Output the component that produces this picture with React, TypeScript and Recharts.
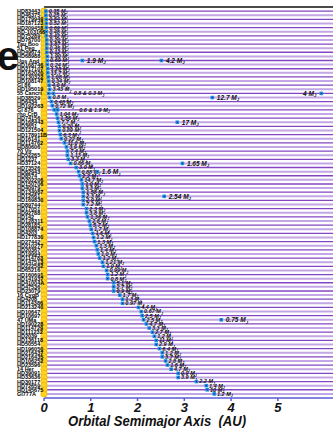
import React from 'react';
import { ReferenceLine, Scatter, ScatterChart, XAxis, YAxis } from 'recharts';

// host stars, top to bottom (sorted by innermost orbit)
const starNames = [
	'HD83443', 'HD46375', 'HD179949', 'HD187123', 'HD209458', 'BD-103166', 'HD75289', 'HD76700',
	'Tau Boo', '51 Peg', 'HD49674', 'HD68988', 'Ups And', 'HD168746', 'HD217107', 'HD162020',
	'HD130322', 'HD108147', 'Gl 86', 'HD195019', '55 Cancri', 'HD38529', 'HD6434', 'HD192263',
	'Gl 876', 'rho CrB', 'HD74156', 'HD168443', 'HD3651', 'HD121504', 'HD178911B', 'HD16141',
	'HD114762', 'HD80606', '70 Vir', 'HD52265', 'HD1237', 'HD37124', 'HD73526', 'HD82943',
	'HD8574', 'HD202206', 'HD150706', 'HD40979', 'HD134987', 'HD12661', 'HD169830', 'HD89744',
	'HD17051', 'HD92788', 'HD142', 'HD128311', 'HD28185', 'HD108874', 'HD4203', 'HD177830',
	'HD27442', 'HD210277', 'HD20367', 'HD19994', 'HD114783', 'HD147513', 'HD222582', 'HD65216',
	'HD160691', 'HD141937', 'HD41004A', 'HD47536', 'HD23079', '16 CygB', 'HD4208', 'HD114386',
	'HD213240', 'HD10647', 'HD10697', '47 UMa', 'HD190228', 'HD114729', 'HD111232', 'HD2039',
	'HD136118', 'HD50554', 'HD196050', 'HD216437', 'HD216435', 'HD106252', 'HD23596', '14 Her',
	'HD39091', 'HD33636', 'HD30177', 'HD72659', 'HD145675', 'Gl777A',
];

// innermost planet: semimajor axis (AU) and mass label (M_J)
const innerAU = [
	0.04, 0.04, 0.05, 0.05, 0.05, 0.05, 0.05, 0.06, 0.06, 0.06, 0.06, 0.07, 0.07, 0.07, 0.08, 0.08,
	0.09, 0.1, 0.11, 0.12, 0.1, 0.12, 0.16, 0.18, 0.22, 0.27, 0.29, 0.31, 0.33, 0.33, 0.35, 0.37,
	0.44, 0.48, 0.5, 0.5, 0.52, 0.57, 0.69, 0.74, 0.76, 0.8, 0.82, 0.82, 0.84, 0.84, 0.84, 0.84,
	0.91, 0.91, 0.93, 0.97, 0.99, 1.01, 1.04, 1.06, 1.08, 1.12, 1.14, 1.16, 1.19, 1.25, 1.27, 1.34,
	1.36, 1.36, 1.49, 1.49, 1.49, 1.62, 1.68, 1.68, 2.02, 2.08, 2.1, 2.13, 2.19, 2.25, 2.32, 2.36,
	2.4, 2.4, 2.47, 2.53, 2.53, 2.6, 2.64, 2.72, 2.87, 2.87, 3.26, 3.47, 3.49, 3.64,
];
const innerMass = [
	'0.35', '0.25', '0.84', '0.52', '0.69', '0.48', '0.42', '0.20', '3.87', '0.46', '0.12', '1.90',
	'0.69', '0.24', '1.28', '13.7', '1.08', '0.34', '4.0', '3.43', '0.8 & 0.3', '0.8', '0.48', '0.72',
	'0.6 & 1.9', '1.04', '1.56', '7.7', '0.20', '0.89', '6.3', '0.22', '11.0', '3.9', '7.4', '1.13',
	'3.3', '0.86', '3.0', '0.88', '2.2', '14.7', '1.0', '3.3', '1.58', '2.3', '2.9', '7.2',
	'2.3', '3.8', '1.36', '2.6', '5.7', '1.7', '1.6', '1.2', '1.3', '1.3', '1.4', '1.0',
	'1.2', '1.21', '1.0', '0.99', '1.2', '0.8', '5.1', '2.7', '0.9', '1.7', '1.3', '0.97',
	'4.4', '0.67', '2.5', '2.5', '4.7', '3.3', '2.7', '1.2', '11', '2.9', '6.4', '1.2',
	'3.7', '2.8', '1.6', '4.7', '0.9', '3.9', '2.2', '1.4', '10', '1.2',
];

// additional planets in multi-planet systems
const outerRow = [12, 12, 20, 20, 21, 24, 27, 37, 39, 45, 75];
const outerAU = [0.82, 2.51, 0.2, 5.93, 3.6, 0.29, 2.85, 2.96, 1.14, 2.57, 3.79];
const outerMass = ['1.9', '4.2', '', '4', '12.7', '', '17', '1.65', '1.6', '2.54', '0.75'];

const axisTicks = [0, 1, 2, 3, 4, 5];

const rows = starNames.map((_, i) => i);
const suns = rows.map((i) => ({ x: 0, y: i }));
const inner = rows.map((i) => ({ x: innerAU[i], y: i, mass: innerMass[i] }));
const outer = outerRow.map((r, k) => ({ x: outerAU[k], y: r, mass: outerMass[k] }));

const labelFont = "'Liberation Sans', Arial, sans-serif";

const Sun = (props: any) => (
	<circle cx={props.cx} cy={props.cy} r={3.2} fill='#ffd41c' stroke='#f0a400' strokeWidth={0.6} />
);

const planetShape = (size: number, gap: number) => (props: any) => {
	const { cx, cy, payload } = props;
	const m: string = payload.mass;
	const pair = m.includes('&');
	const left = payload.x > 5.5;
	const tx = left ? cx - 5 : cx + (pair ? 25 : gap);
	return (
		<g>
			<rect x={cx - 1.8} y={cy - 1.8} width={3.6} height={3.6} fill='#1e8fe6' />
			<rect x={cx - 0.6} y={cy - 0.6} width={1.2} height={1.2} fill='#0b2d6a' />
			{m && (
				<text
					x={tx}
					y={cy + size * 0.35}
					textAnchor={left ? 'end' : 'start'}
					fontSize={size}
					fontWeight='bold'
					fontStyle='italic'
					fontFamily={labelFont}
					fill='#111'
				>
					{m} M
					<tspan fontSize={size * 0.65} dy={size * 0.25}>
						J
					</tspan>
				</text>
			)}
		</g>
	);
};

const NameTick = (props: any) => (
	<text x={17} y={props.y + 2} fontSize={5.5} fontWeight='bold' fontFamily={labelFont} fill='#000'>
		{starNames[props.payload.value]}
	</text>
);

const AxisTick = (props: any) => (
	<text
		x={props.x}
		y={props.y + 9}
		textAnchor='middle'
		fontSize={13}
		fontWeight='bold'
		fontStyle='italic'
		fontFamily={labelFont}
		fill='#111'
	>
		{props.payload.value}
	</text>
);

export default function App() {
	return (
		<div style={{ position: 'absolute', left: 0, top: 0, width: 333, height: 428, background: '#fff' }}>
			<div
				style={{
					position: 'absolute',
					left: -3,
					top: 36,
					fontSize: 40,
					lineHeight: '40px',
					fontWeight: 'bold',
					fontFamily: labelFont,
					color: '#111',
				}}
			>
				e
			</div>
			<ScatterChart width={333} height={428} margin={{ top: 7, right: 0, bottom: 0, left: 0 }}>
				<XAxis
					type='number'
					dataKey='x'
					domain={[0, 6.18]}
					ticks={axisTicks}
					allowDecimals={false}
					height={30}
					stroke='#5a5ad8'
					strokeWidth={1.5}
					tickSize={3}
					tick={AxisTick}
					label={{
						content: () => (
							<text
								x={157}
								y={426}
								textAnchor='middle'
								fontSize={15}
								fontWeight='bold'
								fontStyle='italic'
								fontFamily={labelFont}
								textLength={178}
								lengthAdjust='spacingAndGlyphs'
								fill='#111'
							>
								{'Orbital Semimajor Axis\u00A0 (AU)'}
							</text>
						),
					}}
				/>
				<YAxis
					type='number'
					dataKey='y'
					domain={[-1, 94]}
					reversed
					ticks={rows}
					interval={0}
					width={44}
					axisLine={false}
					tickLine={false}
					tick={NameTick}
				/>
				<ReferenceLine y={-1} stroke='#4a4a4a' strokeWidth={2} />
				{rows.map((i) => (
					<ReferenceLine
						key={i}
						y={i}
						stroke={i % 2 === 0 ? '#8446c4' : '#c3a6e6'}
						strokeWidth={i % 2 === 0 ? 1.3 : 2}
					/>
				))}
				<Scatter data={suns} shape={Sun} isAnimationActive={false} />
				<Scatter data={inner} shape={planetShape(5.5, 2.8)} isAnimationActive={false} />
				<Scatter data={outer} shape={planetShape(6.5, 4.5)} isAnimationActive={false} />
			</ScatterChart>
		</div>
	);
}
